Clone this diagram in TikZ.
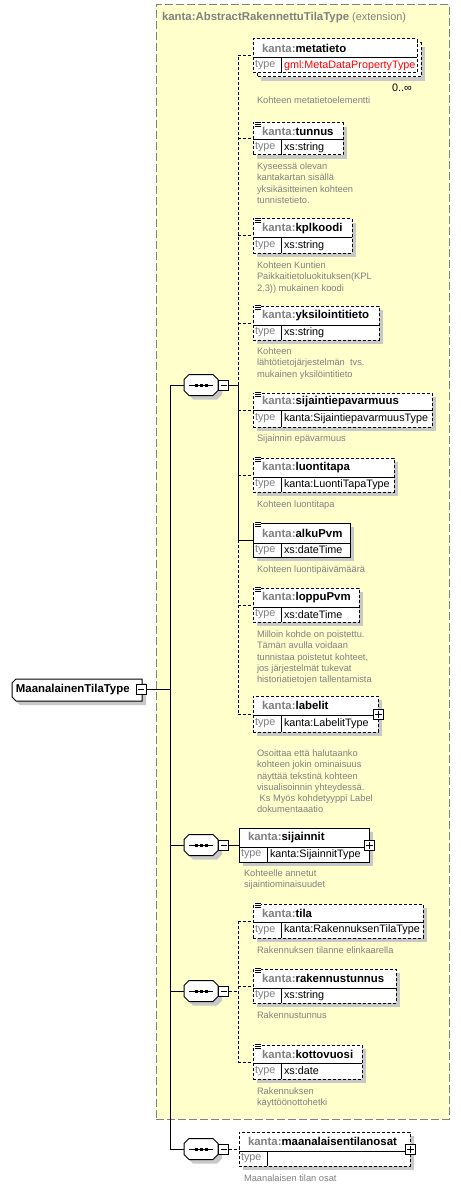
\documentclass[tikz,border=0pt]{standalone}
\usepackage{fontspec}
\setmainfont{Liberation Sans}
\usetikzlibrary{calc}
\definecolor{bgyellow}{RGB}{255,255,204}
\definecolor{bordergray}{RGB}{128,128,128}
\definecolor{shadowgray}{RGB}{200,200,200}
\definecolor{kgray}{RGB}{128,128,128}
\definecolor{descgray}{RGB}{128,128,128}
\definecolor{typered}{RGB}{255,0,0}

% element box: name, style, left, top, right, divider, bottom, title, type
\newcommand{\xelem}[9]{%
  \path[shadowc] (#3+4,#4+4) rectangle (#5+4,#7+4);
  \node[#2, minimum width={(#5-#3)*1pt}, minimum height={(#7-#4)*1pt}] (#1) at (#3,#4) {};
  \draw[line width=1pt] (#3,#6) -- (#5,#6) (#3+28,#6) -- (#3+28,#7);
  \node[ttl] (#1-n) at (#3+9,{(#4+#6)/2}) {\textcolor{kgray}{kanta:}#8};
  \node[tylbl] (#1-l) at (#3+2,{(#6+#7)/2}) {type};
  \node[tyval] (#1-v) at (#3+31,{(#6+#7)/2}) {#9};
}
% documentation icon: left, top
\newcommand{\xicon}[2]{%
  \fill[white] (#1+1,#2-1.5) rectangle (#1+8,#2+4.5);
  \draw[line width=0.9pt] (#1+2,#2-0.5) -- (#1+8,#2-0.5) (#1+2,#2+1.5) -- (#1+8,#2+1.5) (#1+2,#2+3.5) -- (#1+8,#2+3.5);
}
% plus box: name, x, y
\newcommand{\xplus}[3]{%
  \node[plusbox] (#1) at (#2,#3) {};
  \draw[line width=1pt] (#2-3.5,#3) -- (#2+3.5,#3) (#2,#3-3.5) -- (#2,#3+3.5);
}
% octagon: cx, cy, options
\newcommand{\xoct}[3]{%
  \path[#3] (#1-17,#2-5.5) -- (#1-12,#2-10.5) -- (#1+12,#2-10.5) -- (#1+17,#2-5.5) -- (#1+17,#2+5.5) -- (#1+12,#2+10.5) -- (#1-12,#2+10.5) -- (#1-17,#2+5.5) -- cycle;
}
% sequence compositor: name, cx, cy
\newcommand{\xseq}[3]{%
  \xoct{#2+4}{#3+4}{fill=shadowgray}
  \xoct{#2}{#3}{draw=black, fill=white, line width=1pt}
  \node[minimum width=34pt, minimum height=21pt] (#1) at (#2,#3) {};
  \draw[line width=1pt] (#2-12,#3) -- (#2+12,#3);
  \fill (#2-6.5,#3-1.5) rectangle (#2-3.5,#3+1.5);
  \fill (#2-1.5,#3-1.5) rectangle (#2+1.5,#3+1.5);
  \fill (#2+3.5,#3-1.5) rectangle (#2+6.5,#3+1.5);
  \node[minusbox] (#1-m) at (#2+22.5,#3) {};
  \draw[line width=1pt] (#2+19.5,#3) -- (#2+25.5,#3);
}

\begin{document}
\begin{tikzpicture}[x=1pt,y=-1pt,
  every node/.style={inner sep=0pt, outer sep=0pt},
  ebox/.style={draw=black, fill=white, line width=1pt, anchor=north west, rectangle},
  optbox/.style={ebox, dash pattern=on 3pt off 2pt},
  shadowc/.style={fill=shadowgray},
  ttl/.style={font=\fontsize{11.4}{13}\selectfont\bfseries, anchor=west},
  hdr/.style={font=\fontsize{11.4}{13}\selectfont, text=kgray, anchor=west},
  tylbl/.style={font=\fontsize{10.8}{13}\selectfont, text=kgray, anchor=west},
  tyval/.style={font=\fontsize{10.8}{13}\selectfont, anchor=west},
  desc/.style={font=\fontsize{9.3}{11.2}\selectfont, text=descgray, align=left, anchor=north west},
  conn/.style={line width=1pt},
  optconn/.style={line width=1pt, dash pattern=on 3pt off 2pt},
  minusbox/.style={draw, fill=white, line width=1pt, minimum size=10pt},
  plusbox/.style={draw, fill=white, line width=1pt, minimum size=10pt},
  extbox/.style={draw=bordergray, fill=bgyellow, line width=1pt, dash pattern=on 8pt off 3pt, anchor=north west},
]
\useasboundingbox (0,0) rectangle (460,1190);
\fill[white] (0,0) rectangle (460,1190);

% extension area
\node[extbox, minimum width=293pt, minimum height=1114pt] (ext) at (156,5) {};
\node[hdr] (ext-t) at (162,18) {\textbf{kanta:AbstractRakennettuTilaType}\fontsize{10.9}{13}\selectfont{} (extension)};

% root
\xoct{0}{0}{} % placeholder (no drawing)
\path[fill=shadowgray] (20,683) -- (146,683) -- (146,705) -- (20,705) -- (16,701) -- (16,687) -- cycle;
\path[draw=black, fill=white, line width=1pt] (16,679) -- (142,679) -- (142,701) -- (16,701) -- (12,697) -- (12,683) -- cycle;
\node[minimum width=130pt, minimum height=22pt] (root) at (77,690) {};
\node[ttl] (root-t) at (16,690) {MaanalainenTilaType};
\node[minusbox] (root-m) at (141,689) {};
\draw[line width=1pt] (138,689) -- (144,689);

% compositors
\xseq{s1}{201}{385}
\xseq{s2}{201}{845}
\xseq{s3}{201}{991}
\xseq{s4}{201}{1149}

% first sequence elements
\begin{scope}[shadowc/.style={}]
\path[fill=shadowgray] (261,47) rectangle (425,81);
\draw[line width=1pt, dash pattern=on 3pt off 2pt, fill=white] (257,43) rectangle (421,77);
\xelem{meta}{optbox}{253}{39}{417}{58}{73}{metatieto}{\textcolor{typered}{gml:MetaDataPropertyType}}
\end{scope}
\node[tyval] (meta-c) at (392,88) {0..∞};
\node[desc] (meta-d) at (257,97) {Kohteen metatietoelementti};

\xelem{tunnus}{optbox}{253}{123}{343}{140}{155}{tunnus}{xs:string}
\xicon{253}{123}
\node[desc] (tunnus-d) at (257,163) {Kyseessä olevan\\kantakartan sisällä\\yksikäsitteinen kohteen\\tunnistetieto.};

\xelem{kpl}{optbox}{253}{219}{352}{238}{253}{kplkoodi}{xs:string}
\xicon{253}{219}
\node[desc] (kpl-d) at (257,262) {Kohteen Kuntien\\Paikkaitietoluokituksen(KPL\\2.3)) mukainen koodi};

\xelem{yks}{optbox}{253}{306}{379}{325}{340}{yksilointitieto}{xs:string}
\xicon{253}{306}
\node[desc] (yks-d) at (257,348) {Kohteen\\lähtötietojärjestelmän\ \ tvs.\\mukainen yksilöintitieto};

\xelem{sij}{optbox}{253}{393}{432}{410}{427}{sijaintiepavarmuus}{kanta:SijaintiepavarmuusType}
\xicon{253}{393}
\node[desc] (sij-d) at (257,435) {Sijainnin epävarmuus};

\xelem{luo}{optbox}{253}{458}{394}{477}{492}{luontitapa}{kanta:LuontiTapaType}
\xicon{253}{458}
\node[desc] (luo-d) at (257,501) {Kohteen luontitapa};

\xelem{alku}{ebox}{253}{523}{350}{543}{557}{alkuPvm}{xs:dateTime}
\xicon{253}{523}
\node[desc] (alku-d) at (257,566) {Kohteen luontipäivämäärä};

\xelem{loppu}{optbox}{253}{588}{359}{607}{622}{loppuPvm}{xs:dateTime}
\xicon{253}{588}
\node[desc] (loppu-d) at (257,631) {Milloin kohde on poistettu.\\Tämän avulla voidaan\\tunnistaa poistetut kohteet,\\jos järjestelmät tukevat\\historiatietojen tallentamista};

\xelem{lab}{optbox}{253}{696}{378}{715}{732}{labelit}{kanta:LabelitType}
\xplus{lab-p}{378}{714}
\node[desc] (lab-d) at (257,750) {Osoittaa että halutaanko\\kohteen jokin ominaisuus\\näyttää tekstinä kohteen\\visualisoinnin yhteydessä.\\\hspace{0.28em}Ks Myös kohdetyyppi Label\\dokumentaaatio};

% second sequence
\xelem{sijn}{ebox}{239}{828}{369}{847}{862}{sijainnit}{kanta:SijainnitType}
\xplus{sijn-p}{369}{845}
\node[desc] (sijn-d) at (244,870) {Kohteelle annetut\\sijaintiominaisuudet};

% third sequence
\xelem{tila}{optbox}{253}{904}{423}{922}{938}{tila}{kanta:RakennuksenTilaType}
\xicon{253}{904}
\node[desc] (tila-d) at (257,947) {Rakennuksen tilanne elinkaarella};

\xelem{rak}{optbox}{253}{969}{396}{988}{1003}{rakennustunnus}{xs:string}
\xicon{253}{969}
\node[desc] (rak-d) at (257,1012) {Rakennustunnus};

\xelem{kot}{optbox}{253}{1045}{362}{1063}{1079}{kottovuosi}{xs:date}
\xicon{253}{1045}
\node[desc] (kot-d) at (257,1088) {Rakennuksen\\käyttöönottohetki};

% fourth sequence
\xelem{maan}{optbox}{239}{1132}{410}{1151}{1166}{maanalaisentilanosat}{}
\xplus{maan-p}{410}{1149}
\node[desc] (maan-d) at (244,1175) {Maanalaisen tilan osat};

% connectors: trunk
\coordinate (tr) at (170,689);
\draw[conn] (root-m.east) -- (tr);
\draw[conn] (s1.west) -| (tr);
\draw[conn] (s4.west) -| (tr);
\draw[conn] (s2.west) -- (s2.west -| tr);
\draw[conn] (s3.west) -- (s3.west -| tr);

% branch 1
\coordinate (b1) at (238,385);
\draw[conn] (s1-m.east) -- (b1);
\draw[optconn] (b1) -- (b1 |- meta.west);
\draw[conn] (b1) -- (b1 |- alku.west);
\draw[optconn] (b1 |- alku.west) -- (b1 |- lab.west);
\foreach \n in {meta,tunnus,kpl,yks,sij,luo,loppu,lab}
  \draw[optconn] (b1 |- \n.west) -- (\n.west);
\draw[conn] (b1 |- alku.west) -- (alku.west);

% branch 2
\draw[conn] (s2-m.east) -- (sijn.west);

% branch 3
\coordinate (b3) at (238,991);
\draw[optconn] (s3-m.east) -- (b3);
\draw[optconn] (b3 |- tila.west) -- (b3 |- kot.west);
\foreach \n in {tila,rak,kot}
  \draw[optconn] (b3 |- \n.west) -- (\n.west);

% branch 4
\draw[optconn] (s4-m.east) -- (maan.west);
\end{tikzpicture}
\end{document}
